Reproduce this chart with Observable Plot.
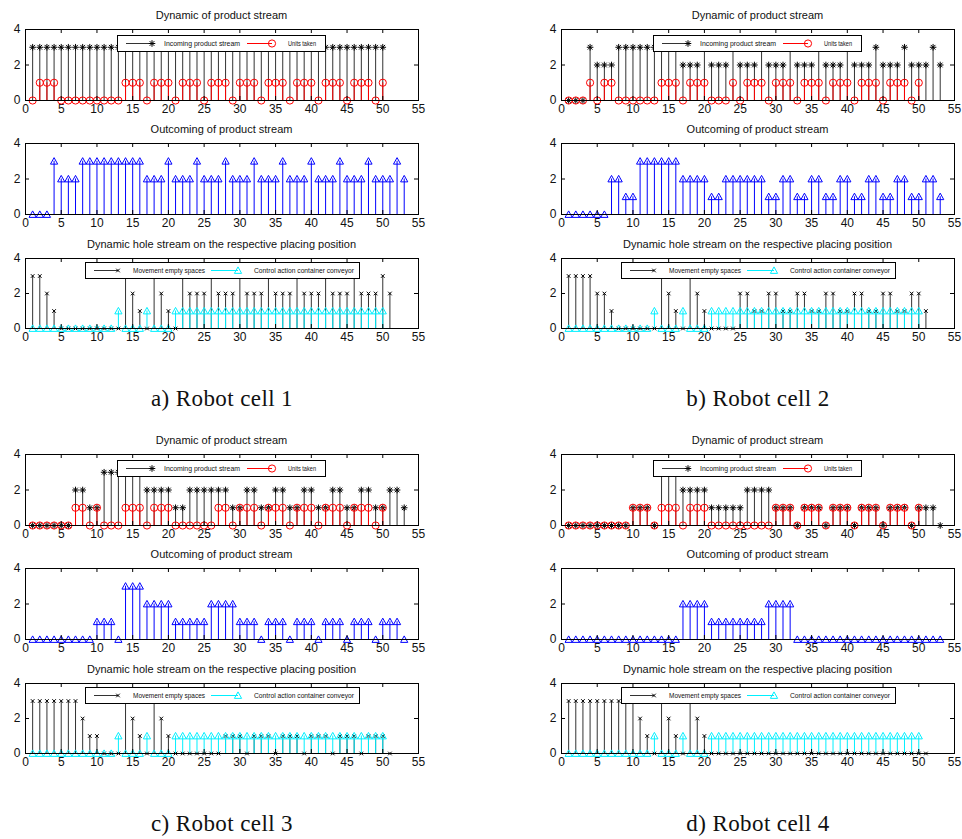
<!DOCTYPE html>
<html><head><meta charset="utf-8">
<script src="https://cdn.jsdelivr.net/npm/d3@7"></script>
<script src="https://cdn.jsdelivr.net/npm/@observablehq/plot@0.6"></script>
<style>
body{margin:0;background:#fff;}
#root{position:relative;width:962px;height:839px;background:#fff;overflow:hidden;font-family:"Liberation Sans",Arial,sans-serif;}
.title{position:absolute;font-size:11px;color:#111;white-space:nowrap;transform:translate(-50%,-50%);line-height:1;}
.caption{position:absolute;font-family:"Liberation Serif","Times New Roman",serif;font-size:23px;letter-spacing:0.4px;color:#111;white-space:nowrap;transform:translate(-50%,-50%);line-height:1;}
.plotbox{position:absolute;width:430px;}
.legend{position:absolute;background:#fff;border:1px solid #000;box-sizing:border-box;}
.legend svg{display:block;}
</style></head><body><div id="root"></div>
<script>
const xTicks = [0,5,10,15,20,25,30,35,40,45,50,55];
const yTicks = [0,2,4];
const titles = ["Dynamic of product stream","Outcoming of product stream","Dynamic hole stream on the respective placing position"];
const captions = ["a) Robot cell 1","b) Robot cell 2","c) Robot cell 3","d) Robot cell 4"];
const legendTopLabels = ["Incoming product stream","Units taken"];
const legendBottomLabels = ["Movement empty spaces","Control action container conveyor"];

// Robot cell 1
const cell1Incoming = [3,3,3,3,3,3,3,3,3,3, 3,3,3,3,3,3,3,3,3,3, 3,3,3,3,3,3,3,3,3,3, 3,3,3,3,3,3,3,3,3,3, 3,3,3,3,3,3,3,3,3,3];
const cell1Taken = [0,1,1,1,0,0,0,0,0,0, 0,0,0,1,1,1,0,1,1,1, 0,1,1,1,0,1,1,1,0,1, 1,1,0,1,1,1,0,1,1,1, 0,1,1,1,0,1,1,1,0,1];
const cell1Out = [0,0,0,3,2,2,2,3,3,3, 3,3,3,3,3,3,2,2,2,3, 2,2,2,3,2,2,2,3,2,2, 2,3,2,2,2,3,2,2,2,3, 2,2,2,3,2,2,2,3,2,2, 2,3,2];
const cell1Holes = [3,3,2,1,0,0,0,0,0,0, 0,0,0,3,2,1,0,3,2,1, 0,3,2,2,2,3,2,2,2,3, 2,2,2,3,2,2,2,3,2,2, 2,3,2,2,2,3,2,2,2,3, 2];
const cell1Control = [0,0,0,0,0,0,0,0,0,0, 0,0,1,0,0,0,1,0,0,0, 1,1,1,1,1,1,1,1,1,1, 1,1,1,1,1,1,1,1,1,1, 1,1,1,1,1,1,1,1,1,1];

// Robot cell 2
const cell2Incoming = [0,0,0,3,2,2,2,3,3,3, 3,3,3,3,3,3,2,2,2,3, 2,2,2,3,2,2,2,3,2,2, 2,3,2,2,2,3,2,2,2,3, 2,2,2,3,2,2,2,3,2,2, 2,3,2];
const cell2Taken = [0,0,0,1,0,1,1,0,0,0, 0,0,0,1,1,1,0,1,1,1, 0,0,0,1,0,1,1,1,0,1, 1,1,0,1,1,1,0,1,1,1, 0,1,1,1,0,1,1,1,0,1];
const cell2Out = [0,0,0,0,0,0,2,2,1,1, 3,3,3,3,3,3,2,2,2,2, 1,1,2,2,2,2,2,2,1,1, 2,2,1,1,2,2,1,1,2,2, 1,1,2,2,1,1,2,2,1,1, 2,2,1];
const cell2Holes = [3,3,3,3,2,2,1,0,0,0, 0,0,0,3,2,1,0,3,2,1, 0,0,0,0,2,2,1,1,2,2, 1,1,2,2,1,1,2,2,1,1, 2,2,1,1,2,2,1,1,2,2, 1];
const cell2Control = [0,0,0,0,0,0,0,0,0,0, 0,0,1,0,0,0,1,0,0,0, 1,1,1,1,1,1,1,1,1,1, 1,1,1,1,1,1,1,1,1,1, 1,1,1,1,1,1,1,1,1,1];

// Robot cell 3
const cell3Incoming = [0,0,0,0,0,0,2,2,1,1, 3,3,3,3,3,3,2,2,2,2, 1,1,2,2,2,2,2,2,1,1, 2,2,1,1,2,2,1,1,2,2, 1,1,2,2,1,1,2,2,1,1, 2,2,1];
const cell3Taken = [0,0,0,0,0,0,1,1,0,1, 0,0,0,1,1,1,0,1,1,1, 0,0,0,0,0,0,1,1,0,1, 1,1,0,1,1,1,0,1,1,1, 0,1,1,1,0,1,1,1,0,1];
const cell3Out = [0,0,0,0,0,0,0,0,0,1, 1,1,0,3,3,3,2,2,2,2, 1,1,1,1,1,2,2,2,2,1, 1,1,0,1,1,1,0,1,1,1, 0,1,1,1,0,1,1,1,0,1, 1,1,0];
const cell3Holes = [3,3,3,3,3,3,3,2,1,1, 0,0,0,3,2,1,0,3,2,1, 0,0,0,0,0,0,0,1,1,1, 0,1,1,1,0,1,1,1,0,1, 1,1,0,1,1,1,0,1,1,1, 0];
const cell3Control = [0,0,0,0,0,0,0,0,0,0, 0,0,1,0,0,0,1,0,0,0, 1,1,1,1,1,1,1,1,1,1, 1,1,1,1,1,1,1,1,1,1, 1,1,1,1,1,1,1,1,1,1];

// Robot cell 4
const cell4Incoming = [0,0,0,0,0,0,0,0,0,1, 1,1,0,3,3,3,2,2,2,2, 1,1,1,1,1,2,2,2,2,1, 1,1,0,1,1,1,0,1,1,1, 0,1,1,1,0,1,1,1,0,1, 1,1,0];
const cell4Taken = [0,0,0,0,0,0,0,0,0,1, 1,1,0,1,1,1,0,1,1,1, 0,0,0,0,0,0,0,0,0,1, 1,1,0,1,1,1,0,1,1,1, 0,1,1,1,0,1,1,1,0,1];
const cell4Out = [0,0,0,0,0,0,0,0,0,0, 0,0,0,0,0,0,2,2,2,2, 1,1,1,1,1,1,1,1,2,2, 2,2,0,0,0,0,0,0,0,0, 0,0,0,0,0,0,0,0,0,0, 0,0,0];
const cell4Holes = [3,3,3,3,3,3,3,3,3,3, 2,1,0,3,2,1,0,3,2,1, 0,0,0,0,0,0,0,0,0,0, 0,0,0,0,0,0,0,0,0,0, 0,0,0,0,0,0,0,0,0,0, 0];
const cell4Control = [0,0,0,0,0,0,0,0,0,0, 0,0,1,0,0,0,1,0,0,0, 1,1,1,1,1,1,1,1,1,1, 1,1,1,1,1,1,1,1,1,1, 1,1,1,1,1,1,1,1,1,1];

// ---- marker symbols (MATLAB-like) ----
const asterisk = {draw(ctx, size){const r=Math.sqrt(size/Math.PI), d=r*Math.SQRT1_2;
  ctx.moveTo(-r,0);ctx.lineTo(r,0);ctx.moveTo(0,-r);ctx.lineTo(0,r);
  ctx.moveTo(-d,-d);ctx.lineTo(d,d);ctx.moveTo(-d,d);ctx.lineTo(d,-d);}};
const triUp = {draw(ctx, size){const r=Math.sqrt(size/Math.PI);
  ctx.moveTo(0,-r);ctx.lineTo(r,r*0.8);ctx.lineTo(-r,r*0.8);ctx.closePath();}};
const crossX = {draw(ctx, size){const r=Math.sqrt(size/Math.PI);
  ctx.moveTo(-r,-r);ctx.lineTo(r,r);ctx.moveTo(-r,r);ctx.lineTo(r,-r);}};
const circ = {draw(ctx, size){const r=Math.sqrt(size/Math.PI); ctx.moveTo(r,0); ctx.arc(0,0,r,0,2*Math.PI);}};

const styles = {
  incoming: {color:"#000000", stem:"#333", symbol: asterisk, r:3.3},
  taken:    {color:"#ff0000", stem:"#ff0000", symbol: circ, r:3.6},
  out:      {color:"#0000ff", stem:"#0000ff", symbol: triUp, r:3.6},
  holes:    {color:"#000000", stem:"#333", symbol: crossX, r:1.8},
  control:  {color:"#00f0ff", stem:"#00f0ff", symbol: triUp, r:3.6}
};

const W = 430, mL = 25, mR = 12, mT = 10, mB = 24;
const innerW = W - mL - mR;

function stemPlot(seriesList, axesH) {
  const marks = [];
  for (const s of seriesList) {
    const data = s.values.map((v, i) => ({x: i + 1, y: v}));
    marks.push(Plot.ruleX(data, {x: "x", y1: 0, y2: "y", stroke: s.style.stem, strokeWidth: 1}));
    marks.push(Plot.dot(data, {x: "x", y: "y", r: s.style.r, symbol: s.style.symbol, stroke: s.style.color, fill: "none", strokeWidth: 1}));
  }
  const tl = 4;
  marks.push(Plot.tickX(xTicks, {x: d => d, insetTop: axesH - tl, stroke: "#000"}));
  marks.push(Plot.tickX(xTicks, {x: d => d, insetBottom: axesH - tl, stroke: "#000"}));
  marks.push(Plot.tickY(yTicks, {y: d => d, insetRight: innerW - tl, stroke: "#000"}));
  marks.push(Plot.tickY(yTicks, {y: d => d, insetLeft: innerW - tl, stroke: "#000"}));
  marks.push(Plot.frame({stroke: "#000"}));
  return Plot.plot({
    width: W, height: mT + axesH + mB,
    marginLeft: mL, marginRight: mR, marginTop: mT, marginBottom: mB,
    x: {domain: [0, 55], ticks: xTicks, tickFormat: d => String(d), tickSize: 0, tickPadding: 4, label: null},
    y: {domain: [0, 4], ticks: yTicks, tickFormat: d => String(d), tickSize: 0, tickPadding: 5, label: null},
    style: {background: "transparent", fontSize: "12px", fontFamily: "'Liberation Sans', Arial, sans-serif", color: "#111", overflow: "visible"},
    marks
  });
}

const root = document.getElementById("root");

function addLegend(left, top, width, height, items) {
  const div = document.createElement("div");
  div.className = "legend";
  Object.assign(div.style, {left: left + "px", top: top + "px", width: width + "px", height: height + "px"});
  const svg = d3.create("svg").attr("width", width - 2).attr("height", height - 2);
  const cy = (height - 2) / 2;
  for (const it of items) {
    svg.append("line").attr("x1", it.x0).attr("x2", it.x1).attr("y1", cy).attr("y2", cy)
      .attr("stroke", it.style.stem).attr("stroke-width", 1);
    svg.append("path").attr("d", d3.symbol(it.style.symbol, Math.PI * it.style.r * it.style.r)())
      .attr("transform", `translate(${it.x1},${cy})`).attr("fill", "none").attr("stroke", it.style.color);
    svg.append("text").attr("x", it.tx).attr("y", cy).attr("dy", "0.35em")
      .attr("font-size", 6.6).attr("font-family", "'Liberation Sans', Arial, sans-serif")
      .attr("fill", "#111").attr("textLength", it.tw).attr("lengthAdjust", "spacingAndGlyphs").text(it.label);
  }
  div.appendChild(svg.node());
  root.appendChild(div);
}

function addText(cls, text, cx, cy) {
  const d = document.createElement("div");
  d.className = cls; d.textContent = text;
  d.style.left = cx + "px"; d.style.top = cy + "px";
  root.appendChild(d);
}

const cells = [
  {ox: 0,   oy: 0,   inc: cell1Incoming, taken: cell1Taken, out: cell1Out, holes: cell1Holes, ctrl: cell1Control},
  {ox: 536, oy: 0,   inc: cell2Incoming, taken: cell2Taken, out: cell2Out, holes: cell2Holes, ctrl: cell2Control},
  {ox: 0,   oy: 425, inc: cell3Incoming, taken: cell3Taken, out: cell3Out, holes: cell3Holes, ctrl: cell3Control},
  {ox: 536, oy: 425, inc: cell4Incoming, taken: cell4Taken, out: cell4Out, holes: cell4Holes, ctrl: cell4Control}
];
const subLayout = [{top: 29, h: 71}, {top: 143, h: 71}, {top: 258, h: 70}];

cells.forEach((c, ci) => {
  const seriesSets = [
    [{values: c.inc, style: styles.incoming}, {values: c.taken, style: styles.taken}],
    [{values: c.out, style: styles.out}],
    [{values: c.holes, style: styles.holes}, {values: c.ctrl, style: styles.control}]
  ];
  seriesSets.forEach((set, si) => {
    const L = subLayout[si];
    const box = document.createElement("div");
    box.className = "plotbox";
    box.style.left = c.ox + "px";
    box.style.top = (c.oy + L.top - mT) + "px";
    box.appendChild(stemPlot(set, L.h));
    root.appendChild(box);
    addText("title", titles[si], c.ox + mL + innerW / 2, c.oy + L.top - 14);
  });
  const axL = c.ox + mL;
  addLegend(axL + 92, c.oy + 29 + 6, 209, 17, [
    {x0: 8, x1: 34, style: styles.incoming, tx: 46, tw: 76, label: legendTopLabels[0]},
    {x0: 129, x1: 154, style: styles.taken, tx: 170, tw: 28, label: legendTopLabels[1]}
  ]);
  addLegend(axL + 60, c.oy + 258 + 4, 275, 17, [
    {x0: 8, x1: 32, style: styles.holes, tx: 47, tw: 72, label: legendBottomLabels[0]},
    {x0: 125, x1: 152, style: styles.control, tx: 168, tw: 100, label: legendBottomLabels[1]}
  ]);
  addText("caption", captions[ci], c.ox + 222, c.oy + 398);
});
</script>
</body></html>
